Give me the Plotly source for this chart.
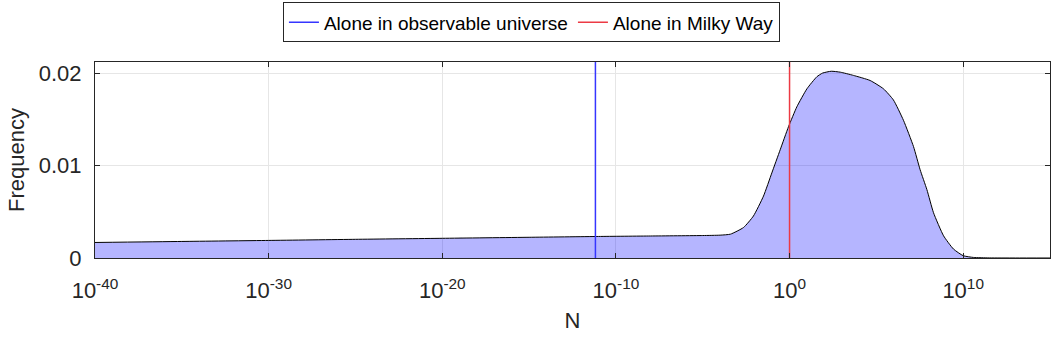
import plotly.graph_objects as go

# Data (exponent of N, frequency)
log_n = [-40, -35, -30, -25, -20, -15, -11, -8, -5, -4, -3.4, -2.65, -2.08, -1.5, -1.02,
         -0.54, -0.06, 0.42, 1.0, 1.57, 1.9, 2.4, 2.92, 3.68, 4.64, 5.41, 5.98, 6.56,
         7.14, 7.52, 7.91, 8.29, 8.87, 9.44, 10.0, 10.6, 11.5, 13, 15]
freq = [0.00168, 0.00179, 0.00190, 0.00202, 0.00213, 0.00224, 0.00233, 0.00238, 0.00243,
        0.00247, 0.00258, 0.0033, 0.00454, 0.0067, 0.0092, 0.0117, 0.0142, 0.01635,
        0.0183, 0.0196, 0.0200, 0.0202, 0.0201, 0.01975, 0.0192, 0.0183, 0.0171, 0.0149,
        0.01205, 0.00955, 0.0074, 0.0049, 0.0024, 0.00097, 0.00025, 0.00006, 0.00001, 0.0, 0.0]

marker_names = ["Alone in observable universe", "Alone in Milky Way"]
marker_log_n = [-11.18, 0.0]
marker_colors = ["#3535ff", "#ec3a44"]

x_tick_exp = [-40, -30, -20, -10, 0, 10]
y_ticks = [0, 0.01, 0.02]
y_tick_text = ["0", "0.01", "0.02"]

FONT = "Liberation Sans, Arial, sans-serif"
x_vals = [10 ** e for e in log_n]
y_max = 0.0212

fig = go.Figure()
fig.add_trace(go.Scatter(
    x=x_vals, y=freq, mode="lines", fill="tozeroy",
    fillcolor="rgba(0,0,255,0.29)",
    line=dict(color="black", width=1, shape="spline", smoothing=0.5),
    showlegend=False, hoverinfo="skip"))

for name, e, c in zip(marker_names, marker_log_n, marker_colors):
    fig.add_trace(go.Scatter(
        x=[10 ** e, 10 ** e], y=[0, y_max], mode="lines",
        line=dict(color=c, width=1.5), name=name))

axis_common = dict(
    showline=True, linecolor="#262626", linewidth=1, mirror="ticks",
    ticks="inside", ticklen=5, tickcolor="#262626",
    showgrid=True, gridcolor="#e6e6e6", gridwidth=1, zeroline=False,
    automargin=False,
    tickfont=dict(family=FONT, size=22, color="#262626"),
)

fig.update_xaxes(
    type="log", range=[-40, 15],
    tickvals=[10 ** e for e in x_tick_exp],
    ticktext=[f"10<sup>{e}</sup>" for e in x_tick_exp],
    ticklabelstandoff=13,
    title=dict(text="N", font=dict(family=FONT, size=22, color="#262626"), standoff=10),
    **axis_common)
fig.update_yaxes(
    range=[0, y_max], tickvals=y_ticks, ticktext=y_tick_text,
    ticklabelstandoff=8,
    title=dict(text="Frequency", font=dict(family=FONT, size=22, color="#262626"), standoff=8),
    **axis_common)

fig.update_layout(
    width=1062, height=344,
    margin=dict(l=95, r=12, t=62, b=86, autoexpand=False),
    paper_bgcolor="white", plot_bgcolor="white",
    legend=dict(orientation="h", x=0.457, xanchor="center", y=1.304, yanchor="top",
                bordercolor="#262626", borderwidth=1, bgcolor="white",
                font=dict(family=FONT, size=19, color="black"),
                itemwidth=30, tracegroupgap=0),
)

fig.write_html("out.html")
